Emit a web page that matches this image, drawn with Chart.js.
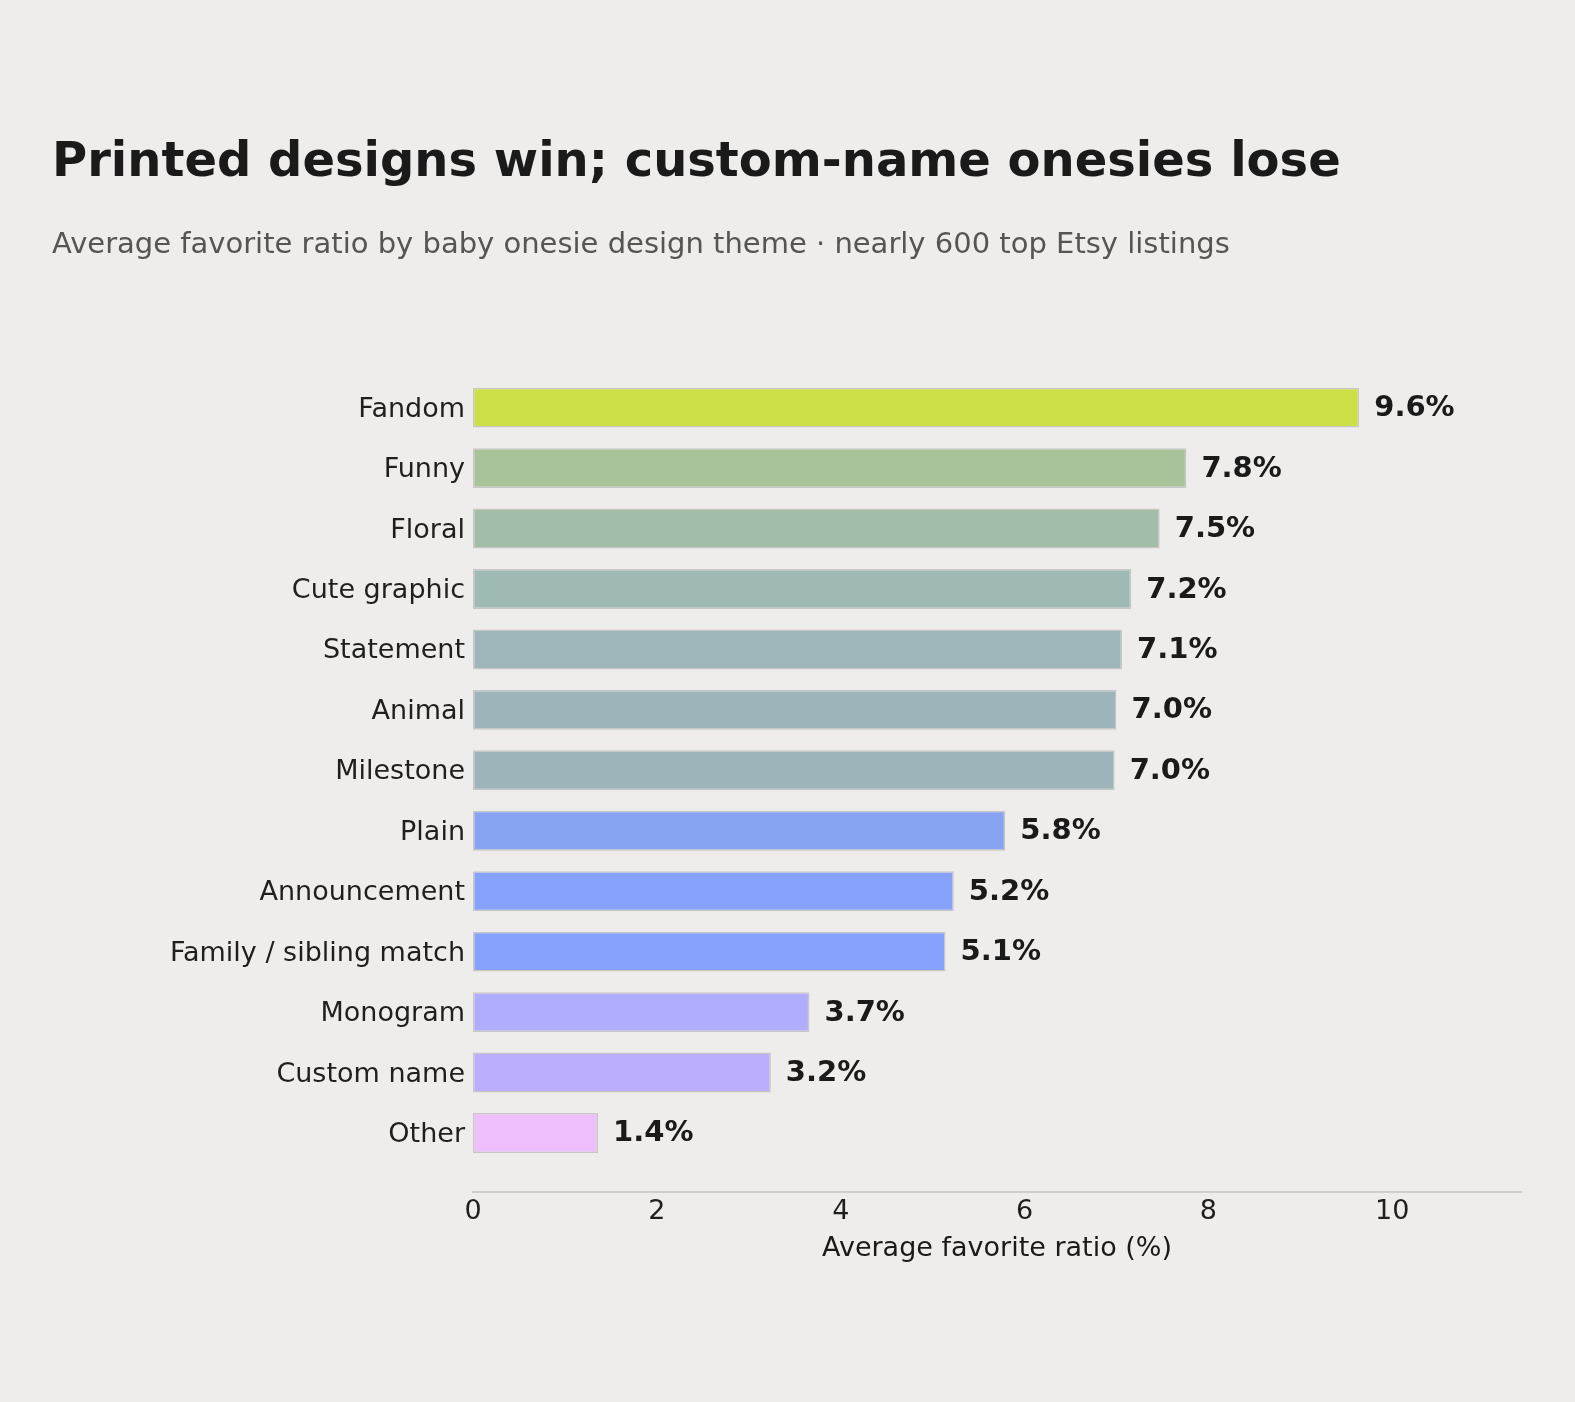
<!DOCTYPE html>
<html>
<head>
<meta charset="utf-8">
<script src="https://cdn.jsdelivr.net/npm/chart.js@4"></script>
<style>
  html, body { margin: 0; padding: 0; background: #eeedeb; }
  #wrap { width: 1575px; height: 1402px; }
</style>
</head>
<body>
<div id="wrap"><canvas id="myChart"></canvas></div>
<script>
// design themes, top to bottom
const themes = [
    'Fandom', 'Funny', 'Floral', 'Cute graphic', 'Statement', 'Animal', 'Milestone',
    'Plain', 'Announcement', 'Family / sibling match', 'Monogram', 'Custom name', 'Other'
];

// average favorite ratio (%)
const ratios = [9.64, 7.76, 7.47, 7.16, 7.06, 7.0, 6.98, 5.79, 5.23, 5.14, 3.66, 3.24, 1.36];

const barColors = [
    '#cddf47', '#a8c29a', '#a2bea8', '#9fbab4', '#9eb6ba', '#9db5ba', '#9db5ba',
    '#87a3f2', '#87a2fd', '#87a2fd', '#b1adfe', '#bbaffd', '#efbefd'
];

const xTicks = [0, 2, 4, 6, 8, 10];

Chart.defaults.font.family = '"DejaVu Sans", sans-serif';
Chart.defaults.color = '#1f1f1f';

// percent labels at the end of each bar
const valueLabels = {
    id: 'valueLabels',
    afterDatasetsDraw(chart) {
        const ctx = chart.ctx;
        const meta = chart.getDatasetMeta(0);
        ctx.save();
        ctx.font = 'bold 29px "DejaVu Sans", sans-serif';
        ctx.fillStyle = '#1a1a1a';
        ctx.textAlign = 'left';
        ctx.textBaseline = 'middle';
        meta.data.forEach((bar, i) => {
            ctx.fillText(ratios[i].toFixed(1) + '%', bar.x + 15, bar.y + 1);
        });
        ctx.restore();
    }
};

new Chart(document.getElementById('myChart'), {
    type: 'bar',
    data: {
        datasets: [{
            data: ratios.map((v, i) => ({ x: v, y: i })),
            backgroundColor: barColors,
            borderColor: 'rgba(0, 0, 0, 0.16)',
            borderWidth: 1.5,
            borderSkipped: false,
            categoryPercentage: 1,
            barPercentage: 0.66
        }]
    },
    options: {
        indexAxis: 'y',
        responsive: true,
        maintainAspectRatio: false,
        animation: false,
        layout: {
            padding: { left: 52, right: 54, top: 0, bottom: 129 }
        },
        plugins: {
            legend: { display: false },
            tooltip: { enabled: false },
            title: {
                display: true,
                text: 'Printed designs win; custom-name onesies lose',
                align: 'start',
                color: '#1a1a1a',
                font: { size: 48, weight: 'bold' },
                padding: { top: 135, bottom: 35 }
            },
            subtitle: {
                display: true,
                text: 'Average favorite ratio by baby onesie design theme \u00b7 nearly 600 top Etsy listings',
                align: 'start',
                color: '#555555',
                font: { size: 29 },
                padding: { top: 0, bottom: 109 }
            }
        },
        scales: {
            x: {
                type: 'linear',
                min: 0,
                max: 11.4,
                grid: { display: false, drawTicks: false },
                border: { display: true, color: '#cfcfcf', width: 2 },
                afterBuildTicks: (scale) => {
                    scale.ticks = xTicks.map(v => ({ value: v }));
                },
                ticks: {
                    padding: 4,
                    font: { size: 27 }
                },
                title: {
                    display: true,
                    text: 'Average favorite ratio (%)',
                    color: '#1a1a1a',
                    font: { size: 27 },
                    padding: { top: 0, bottom: 8 }
                }
            },
            y: {
                type: 'linear',
                reverse: true,
                offset: false,
                min: -0.6,
                max: 12.98,
                grid: { display: false, drawTicks: false },
                border: { display: false },
                afterBuildTicks: (scale) => {
                    scale.ticks = themes.map((t, i) => ({ value: i }));
                },
                afterFit: (scale) => {
                    scale.width = 421;
                },
                ticks: {
                    padding: 8,
                    labelOffset: 2,
                    font: { size: 27 },
                    callback: (value) => themes[value]
                }
            }
        }
    },
    plugins: [valueLabels]
});
</script>
</body>
</html>
